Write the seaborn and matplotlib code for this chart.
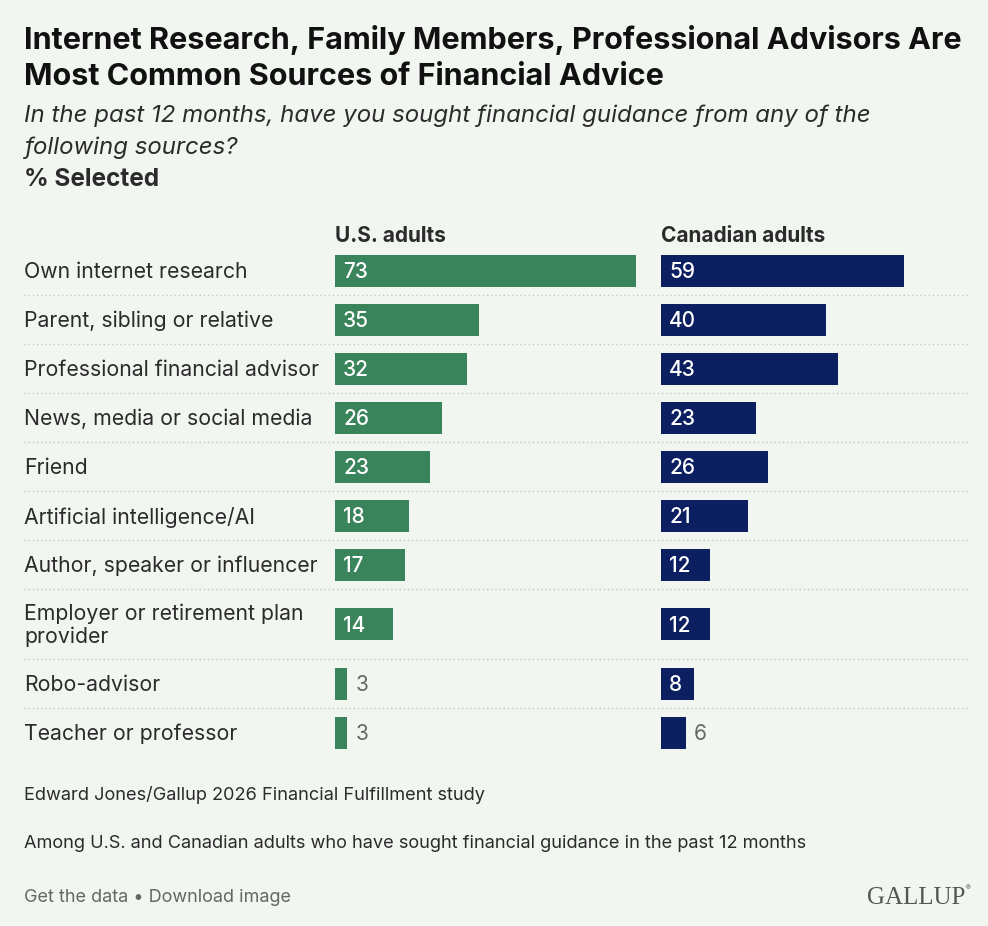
import numpy as np
import pandas as pd
import matplotlib.pyplot as plt
import seaborn as sns

# data
sources = [
    "Own internet research",
    "Parent, sibling or relative",
    "Professional financial advisor",
    "News, media or social media",
    "Friend",
    "Artificial intelligence/AI",
    "Author, speaker or influencer",
    "Employer or retirement plan\nprovider",
    "Robo-advisor",
    "Teacher or professor",
]
us_values = [73, 35, 32, 26, 23, 18, 17, 14, 3, 3]
ca_values = [59, 40, 43, 23, 26, 21, 12, 12, 8, 6]
groups = ["U.S. adults", "Canadian adults"]

# style
BG = "#f2f6f1"
GREEN = "#3a845b"
NAVY = "#0b1f61"
TEXT = "#2b2b2b"
GREY = "#666666"

sns.set_theme(style="white")
plt.rcParams["font.family"] = ["Inter", "DejaVu Sans"]

W, H = 988, 926
fig = plt.figure(figsize=(W / 100, H / 100), dpi=100, facecolor=BG)

# full-figure axes in pixel units for text and separators
bg = fig.add_axes([0, 0, 1, 1])
bg.set_xlim(0, W)
bg.set_ylim(H, 0)
bg.axis("off")
bg.set_facecolor(BG)

# rows: the wrapped label gets a taller row
row_h = [49] * 7 + [70] + [49] * 2
edges = 246 + np.concatenate([[0], np.cumsum(row_h)])
centers = (edges[:-1] + edges[1:]) / 2

df = pd.DataFrame({"source": sources, "pos": centers, "us": us_values, "ca": ca_values})

PX_PER_PT = 4.12  # pixels per percentage point
panels = [
    (335, 320, "us", GREEN, groups[0]),
    (661, 309, "ca", NAVY, groups[1]),
]

for x0, w, col, color, header in panels:
    ax = fig.add_axes([x0 / W, 0, w / W, 1])
    sns.barplot(data=df, x=col, y="pos", orient="y", native_scale=True,
                color=color, width=32 / 49, errorbar=None, saturation=1,
                linewidth=0, ax=ax)
    ax.set_xlim(0, w / PX_PER_PT)
    ax.set_ylim(H, 0)
    ax.axis("off")
    ax.patch.set_alpha(0)
    for y, v in zip(df["pos"], df[col]):
        if v >= 8:
            ax.text(8 / PX_PER_PT, y + 1.5, str(v), color="white", fontsize=15,
                    va="center", ha="left", fontweight="medium")
        else:
            ax.text(v + 8 / PX_PER_PT, y + 1.5, str(v), color=GREY, fontsize=15,
                    va="center", ha="left")
    bg.text(x0, 236, header, fontsize=15, fontweight="bold", color=TEXT,
            va="center", ha="left")

# category labels and dotted separators
for y, label in zip(centers, sources):
    bg.text(24, y + 1.5, label, fontsize=15.3, color=TEXT, va="center", ha="left",
            linespacing=1.15)
for y in edges[1:-1]:
    bg.plot([24, 970], [y, y], color="#c4c6c3", lw=1, ls=(0, (1, 2)))

# titles
bg.text(24, 40, "Internet Research, Family Members, Professional Advisors Are",
        fontsize=22, fontweight="bold", color="#111111", va="center")
bg.text(24, 77, "Most Common Sources of Financial Advice",
        fontsize=22, fontweight="bold", color="#111111", va="center")
bg.text(24, 116, "In the past 12 months, have you sought financial guidance from any of the",
        fontsize=17.3, style="italic", color=TEXT, va="center")
bg.text(24, 148, "following sources?", fontsize=17.3, style="italic", color=TEXT, va="center")
bg.text(24, 180, "% Selected", fontsize=17.5, fontweight="bold", color=TEXT, va="center")

# footer
bg.text(24, 795, "Edward Jones/Gallup 2026 Financial Fulfillment study",
        fontsize=13.1, color=TEXT, va="center")
bg.text(24, 843, "Among U.S. and Canadian adults who have sought financial guidance in the past 12 months",
        fontsize=13.1, color=TEXT, va="center")
bg.text(24, 898, "Get the data \u2022 Download image", fontsize=13, color=GREY, va="center")
bg.text(965, 898, "GALLUP", fontsize=18, color="#555555", va="center", ha="right",
        family="Liberation Serif")
bg.text(966, 888, "\u00ae", fontsize=5, color="#555555", va="center", ha="left")

fig.savefig("out.png", dpi=100, facecolor=BG)
